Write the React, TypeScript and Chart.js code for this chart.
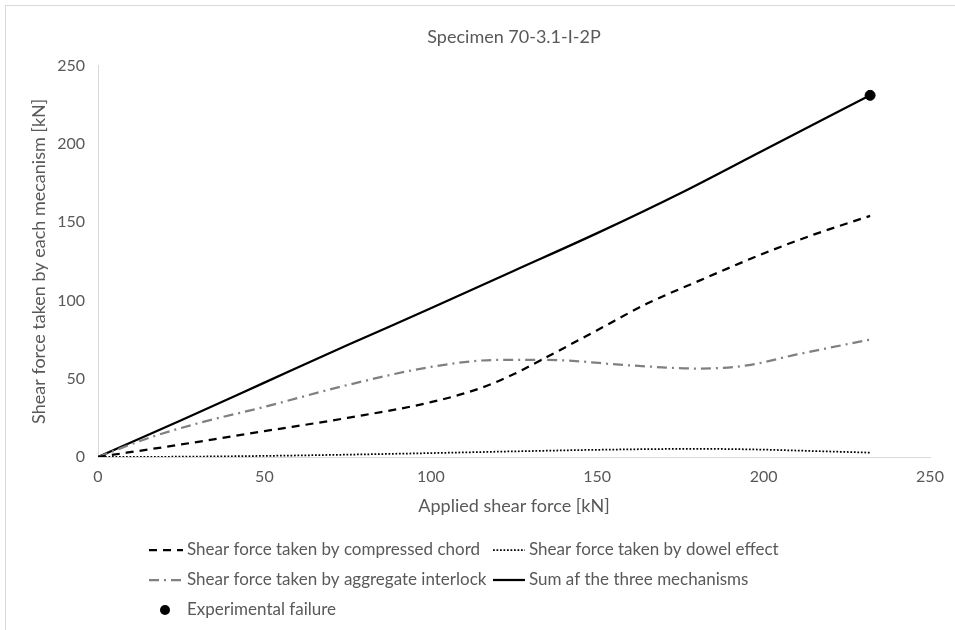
import React, { useEffect, useRef } from "react";
import { Chart, registerables } from "chart.js";

Chart.register(...registerables);

// ---- data ----
const chordX = [0, 25, 50, 75, 100, 115, 125, 135, 150, 165, 180, 200, 215, 232];
const chordY = [0, 8, 16.5, 25, 35, 44, 53, 64, 81, 98, 112, 130, 142, 154];

const dowelX = [0, 25, 50, 75, 100, 125, 150, 180, 200, 215, 232];
const dowelY = [0, 0.2, 0.7, 1.5, 2.5, 3.6, 4.6, 5.2, 4.7, 3.8, 2.8];

const aggX = [0, 15, 30, 50, 75, 100, 120, 135, 160, 180, 195, 210, 232];
const aggY = [0, 12, 21.5, 32, 46, 57.5, 62, 62, 58.5, 56.5, 58.5, 65.5, 75];

const sumX = [0, 25, 50, 75, 100, 125, 150, 175, 200, 232];
const sumY = [0, 23.5, 47.5, 71.5, 95, 119, 143, 168.5, 196, 231];

const failX = [232];
const failY = [231];

const seriesLabels = [
  "Shear force taken by compressed chord",
  "Shear force taken by dowel effect",
  "Shear force taken by aggregate interlock",
  "Sum af the three mechanisms",
  "Experimental failure",
];

const titleText = "Specimen 70-3.1-I-2P";
const xTitle = "Applied shear force [kN]";
const yTitle = "Shear force taken by each mecanism [kN]";
const axisMin = 0;
const axisMax = 250;
const axisStep = 50;

const toPts = (xs: number[], ys: number[]) => xs.map((x, i) => ({ x, y: ys[i] }));

const FONT = "Lato, 'Open Sans', sans-serif";
const TXT = "#595959";

const legendPlugin = {
  id: "customLegend",
  afterDraw(chart: any) {
    const ctx = chart.ctx;
    const ds = chart.data.datasets;
    const cols = [
      { lx0: 149, lx1: 183, tx: 187 },
      { lx0: 493, lx1: 525, tx: 529 },
    ];
    const rows = [550, 580, 610];
    const layout = [
      [0, 0, 0],
      [1, 0, 1],
      [2, 1, 0],
      [3, 1, 1],
      [4, 2, 0],
    ];
    ctx.save();
    ctx.font = `17px ${FONT}`;
    ctx.textBaseline = "middle";
    ctx.textAlign = "left";
    for (const [i, r, c] of layout) {
      const d = ds[i];
      const y = rows[r];
      const col = cols[c];
      if (d.showLine === false) {
        ctx.beginPath();
        ctx.fillStyle = d.pointBackgroundColor;
        ctx.arc((col.lx0 + col.lx1) / 2 - 1, y, 5, 0, Math.PI * 2);
        ctx.fill();
      } else {
        ctx.beginPath();
        ctx.strokeStyle = d.borderColor;
        ctx.lineWidth = d.borderWidth;
        ctx.setLineDash(d.borderDash || []);
        ctx.moveTo(col.lx0, y);
        ctx.lineTo(col.lx1, y);
        ctx.stroke();
        ctx.setLineDash([]);
      }
      ctx.fillStyle = TXT;
      ctx.fillText(d.label, col.tx, y);
    }
    ctx.restore();
  },
};

export default function App() {
  const ref = useRef<HTMLCanvasElement | null>(null);

  useEffect(() => {
    if (!ref.current) return;
    Chart.defaults.font.family = FONT;
    Chart.defaults.color = TXT;
    const lineCommon = {
      showLine: true,
      pointRadius: 0,
      pointHoverRadius: 0,
      fill: false,
      cubicInterpolationMode: "monotone" as const,
    };
    const chart = new Chart(ref.current, {
      type: "scatter",
      data: {
        datasets: [
          {
            ...lineCommon,
            label: seriesLabels[0],
            data: toPts(chordX, chordY),
            borderColor: "#000000",
            borderWidth: 2.25,
            borderDash: [8, 6],
          },
          {
            ...lineCommon,
            label: seriesLabels[1],
            data: toPts(dowelX, dowelY),
            borderColor: "#000000",
            borderWidth: 1.75,
            borderDash: [1.75, 1.75],
          },
          {
            ...lineCommon,
            label: seriesLabels[2],
            data: toPts(aggX, aggY),
            borderColor: "#808080",
            borderWidth: 2.25,
            borderDash: [10, 5, 2, 5],
          },
          {
            ...lineCommon,
            label: seriesLabels[3],
            data: toPts(sumX, sumY),
            borderColor: "#000000",
            borderWidth: 2.25,
          },
          {
            label: seriesLabels[4],
            data: toPts(failX, failY),
            showLine: false,
            pointRadius: 5,
            pointBackgroundColor: "#000000",
            pointBorderColor: "#000000",
            borderColor: "#000000",
          },
        ],
      },
      options: {
        animation: false,
        responsive: false,
        maintainAspectRatio: false,
        layout: { padding: { left: 0, right: 25, top: 0, bottom: 110 } },
        plugins: {
          legend: { display: false },
          tooltip: { enabled: false },
          title: {
            display: true,
            text: titleText,
            fullSize: false,
            color: TXT,
            font: { family: FONT, size: 18, weight: "normal" },
            padding: { top: 26, bottom: 18 },
          },
        },
        scales: {
          x: {
            type: "linear",
            min: axisMin,
            max: axisMax,
            ticks: { stepSize: axisStep, padding: 10, color: TXT, font: { size: 16 } },
            grid: { display: false, drawTicks: false },
            border: { display: true, color: "#d9d9d9", width: 1 },
            title: {
              display: true,
              text: xTitle,
              color: TXT,
              font: { size: 18 },
              padding: { top: 0, bottom: 3 },
            },
            afterFit: (s: any) => {
              s.height = 63;
            },
          },
          y: {
            type: "linear",
            min: axisMin,
            max: axisMax,
            ticks: { stepSize: axisStep, padding: 13, color: TXT, font: { size: 16 } },
            grid: { display: false, drawTicks: false },
            border: { display: true, color: "#d9d9d9", width: 1 },
            title: {
              display: true,
              text: yTitle,
              color: TXT,
              font: { size: 18 },
              padding: { top: 28, bottom: 0 },
            },
            afterFit: (s: any) => {
              s.width = 98;
            },
          },
        },
      },
      plugins: [legendPlugin],
    });
    return () => chart.destroy();
  }, []);

  return (
    <div
      style={{
        position: "absolute",
        left: 0,
        top: 0,
        width: 955,
        height: 630,
        overflow: "hidden",
        background: "#ffffff",
      }}
    >
      <div
        style={{
          position: "absolute",
          left: 5,
          top: 5,
          width: 1000,
          height: 700,
          border: "1px solid #d9d9d9",
        }}
      />
      <canvas
        ref={ref}
        width={955}
        height={630}
        style={{ position: "absolute", left: 0, top: 0, width: 955, height: 630 }}
      />
    </div>
  );
}
